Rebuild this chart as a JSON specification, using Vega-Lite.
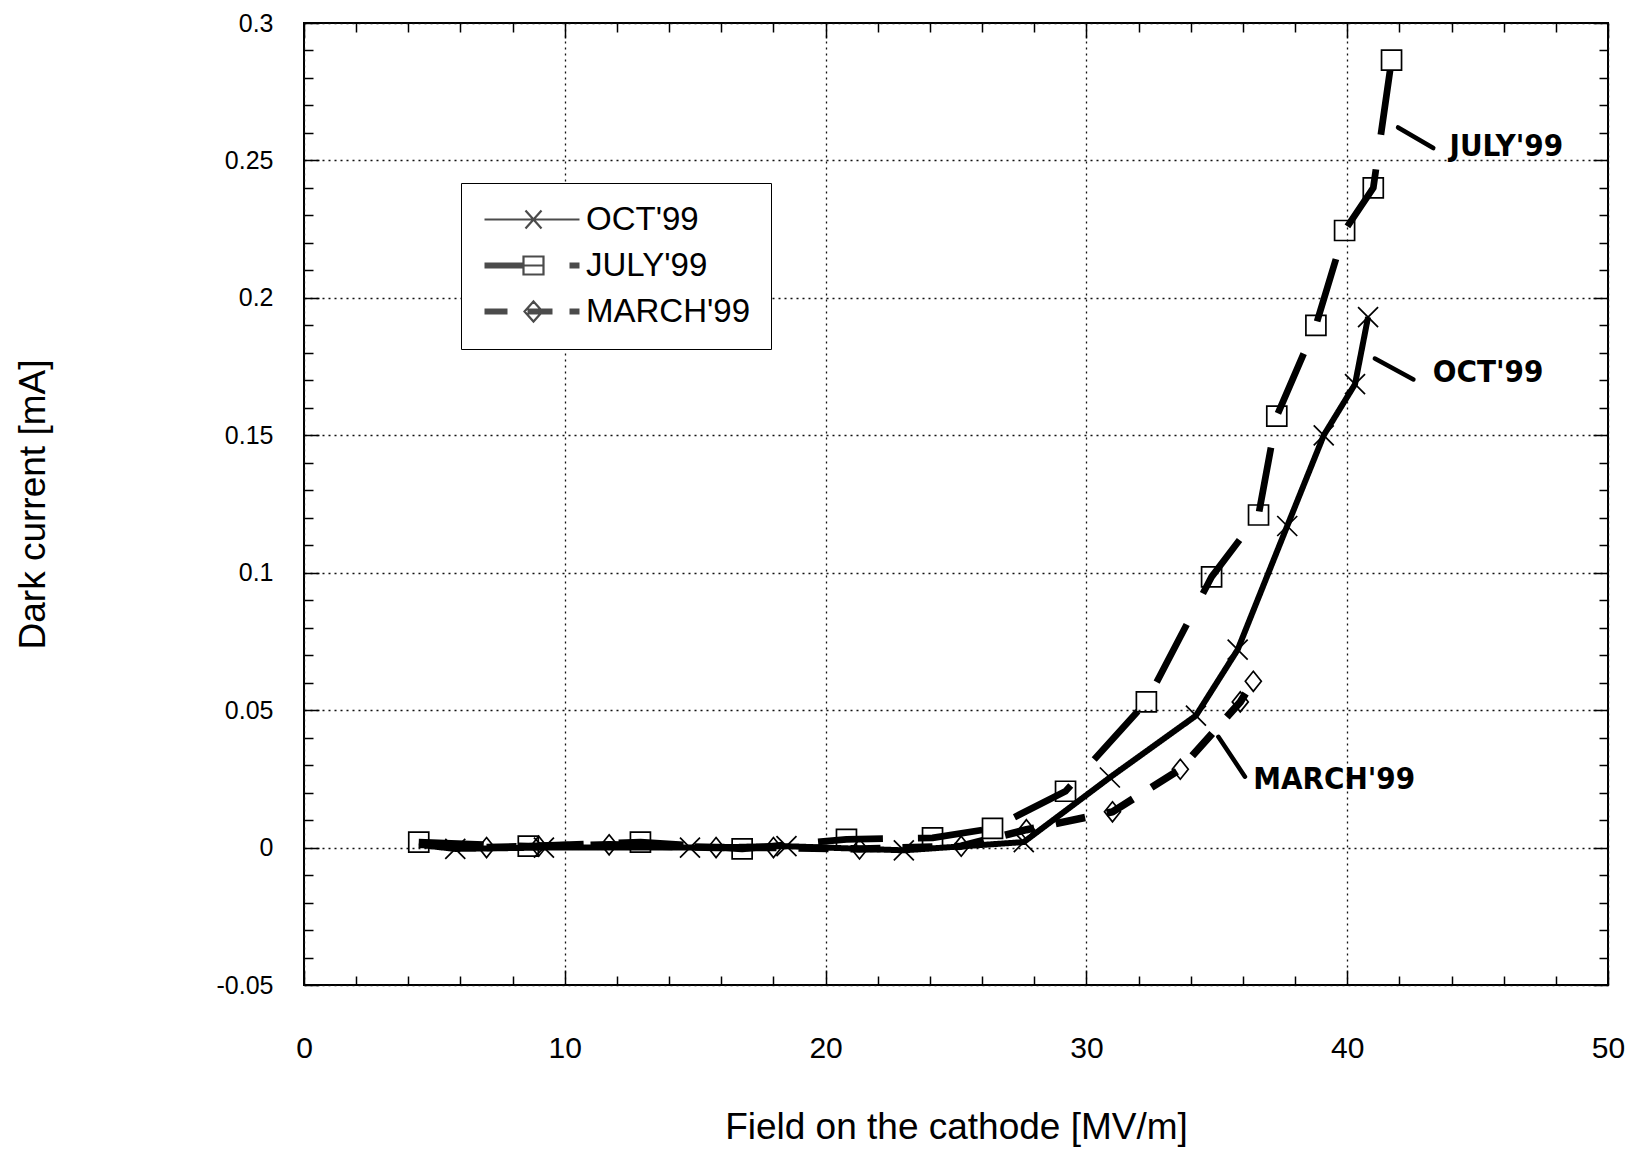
{
  "$schema": "https://vega.github.io/schema/vega-lite/v6.json",
  "width": 1304,
  "height": 962,
  "autosize": {"type": "none"},
  "padding": {"left": 304, "top": 23, "right": 31, "bottom": 164},
  "background": "white",
  "config": {
    "font": "Liberation Sans",
    "view": {"stroke": "black", "strokeWidth": 2, "fill": "white"},
    "axis": {"domain": false, "labelColor": "black", "titleColor": "black", "tickColor": "black", "labelFont": "Liberation Sans", "titleFont": "Liberation Sans", "titleFontWeight": "normal", "labelFlush": false}
  },
  "datasets": {
    "curves": [
      {"series": "JULY'99", "field": 4.4, "current": 0.002},
      {"series": "JULY'99", "field": 8.6, "current": 0.0005},
      {"series": "JULY'99", "field": 12.9, "current": 0.002},
      {"series": "JULY'99", "field": 16.8, "current": -0.0005},
      {"series": "JULY'99", "field": 20.8, "current": 0.003},
      {"series": "JULY'99", "field": 24.1, "current": 0.0035},
      {"series": "JULY'99", "field": 26.4, "current": 0.007},
      {"series": "JULY'99", "field": 29.2, "current": 0.0205},
      {"series": "JULY'99", "field": 32.3, "current": 0.053},
      {"series": "JULY'99", "field": 34.8, "current": 0.0985},
      {"series": "JULY'99", "field": 36.6, "current": 0.121},
      {"series": "JULY'99", "field": 37.3, "current": 0.157},
      {"series": "JULY'99", "field": 38.8, "current": 0.19},
      {"series": "JULY'99", "field": 39.9, "current": 0.2245},
      {"series": "JULY'99", "field": 41.0, "current": 0.24},
      {"series": "JULY'99", "field": 41.7, "current": 0.2865},
      {"series": "OCT'99", "field": 4.4, "current": 0.001},
      {"series": "OCT'99", "field": 5.8, "current": -0.0005},
      {"series": "OCT'99", "field": 9.2, "current": 0.0},
      {"series": "OCT'99", "field": 14.8, "current": 0.0},
      {"series": "OCT'99", "field": 18.5, "current": 0.0005},
      {"series": "OCT'99", "field": 23.0, "current": -0.001},
      {"series": "OCT'99", "field": 27.6, "current": 0.002},
      {"series": "OCT'99", "field": 30.9, "current": 0.0255},
      {"series": "OCT'99", "field": 34.2, "current": 0.048},
      {"series": "OCT'99", "field": 35.8, "current": 0.072},
      {"series": "OCT'99", "field": 37.7, "current": 0.117},
      {"series": "OCT'99", "field": 39.1, "current": 0.15},
      {"series": "OCT'99", "field": 40.3, "current": 0.1686},
      {"series": "OCT'99", "field": 40.8, "current": 0.193},
      {"series": "MARCH'99", "field": 7.0, "current": 0.0},
      {"series": "MARCH'99", "field": 9.0, "current": 0.0005},
      {"series": "MARCH'99", "field": 11.7, "current": 0.001},
      {"series": "MARCH'99", "field": 15.8, "current": 0.0},
      {"series": "MARCH'99", "field": 18.0, "current": 0.0},
      {"series": "MARCH'99", "field": 21.3, "current": -0.0005},
      {"series": "MARCH'99", "field": 25.2, "current": 0.0005},
      {"series": "MARCH'99", "field": 27.7, "current": 0.0065},
      {"series": "MARCH'99", "field": 31.0, "current": 0.013},
      {"series": "MARCH'99", "field": 33.6, "current": 0.0285},
      {"series": "MARCH'99", "field": 35.9, "current": 0.053},
      {"series": "MARCH'99", "field": 36.4, "current": 0.0605}
    ],
    "notes": [
      {"label": "JULY'99", "x": 46.1, "y": 0.255},
      {"label": "OCT'99", "x": 45.4, "y": 0.1728},
      {"label": "MARCH'99", "x": 39.5, "y": 0.0247}
    ],
    "arrows": [
      {"x": 41.95, "y": 0.262, "x2": 43.3, "y2": 0.2545},
      {"x": 41.06, "y": 0.1779, "x2": 42.54, "y2": 0.1703},
      {"x": 35.06, "y": 0.0403, "x2": 36.08, "y2": 0.0258}
    ]
  },
  "resolve": {"scale": {"shape": "independent"}, "axis": {"x": "independent", "y": "independent"}},
  "layer": [
    {
      "data": {"name": "curves"},
      "mark": {"type": "line", "color": "black", "strokeCap": "butt", "strokeJoin": "round"},
      "encoding": {
        "x": {"field": "field", "type": "quantitative", "scale": {"domain": [0, 50], "nice": false, "zero": false},
          "axis": {"orient": "bottom", "values": [0, 10, 20, 30, 40, 50], "ticks": false, "tickSize": 0, "grid": true, "gridColor": "#111111", "gridDash": [2, 4], "gridWidth": 1.3, "labelFontSize": 30, "labelPadding": 63, "labelBaseline": "middle", "title": "Field on the cathode [MV/m]", "titleFontSize": 37, "titleY": 142, "titleBaseline": "middle"}},
        "y": {"field": "current", "type": "quantitative", "scale": {"domain": [-0.05, 0.3], "nice": false, "zero": false},
          "axis": {"orient": "left", "values": [-0.05, 0, 0.05, 0.1, 0.15, 0.2, 0.25, 0.3], "labelExpr": "'' + datum.value", "ticks": false, "tickSize": 0, "grid": true, "gridColor": "#111111", "gridDash": [2, 4], "gridWidth": 1.3, "labelFontSize": 25, "labelPadding": 31, "title": "Dark current [mA]", "titleFontSize": 37, "titleX": -271, "titleY": 481, "titleBaseline": "middle", "titleAngle": -90}},
        "strokeDash": {"field": "series", "type": "nominal", "scale": {"domain": ["OCT'99", "JULY'99", "MARCH'99"], "range": [[1, 0], [65, 35], [30, 22]]}, "legend": null},
        "strokeWidth": {"field": "series", "type": "ordinal", "scale": {"domain": ["OCT'99", "JULY'99", "MARCH'99"], "range": [6, 7.5, 7]}, "legend": null}
      }
    },
    {
      "data": {"name": "curves"},
      "transform": [{"filter": "datum.series !== \"OCT'99\" || datum.field > 5"}],
      "mark": {"type": "point", "filled": false, "color": "black", "strokeWidth": 1.7, "size": 400, "opacity": 1},
      "encoding": {
        "x": {"field": "field", "type": "quantitative", "scale": {"domain": [0, 50], "nice": false, "zero": false},
          "axis": {"orient": "bottom", "values": [0, 10, 20, 30, 40, 50], "labels": false, "grid": false, "ticks": true, "tickSize": -15, "tickWidth": 1.5, "title": null}},
        "y": {"field": "current", "type": "quantitative", "scale": {"domain": [-0.05, 0.3], "nice": false, "zero": false},
          "axis": {"orient": "left", "values": [-0.05, 0, 0.05, 0.1, 0.15, 0.2, 0.25, 0.3], "labels": false, "grid": false, "ticks": true, "tickSize": -15, "tickWidth": 1.5, "title": null}},
        "shape": {"field": "series", "type": "nominal", "scale": {"domain": ["OCT'99", "JULY'99", "MARCH'99"], "range": ["M-1,-1L1,1M-1,1L1,-1", "square", "M0,-1L0.8,0L0,1L-0.8,0Z"]}, "legend": null}
      }
    },
    {
      "data": {"name": "notes"},
      "mark": {"type": "text", "font": "DejaVu Sans Condensed", "fontWeight": "bold", "fontSize": 31, "color": "black", "align": "center", "baseline": "middle"},
      "encoding": {
        "x": {"field": "x", "type": "quantitative", "scale": {"domain": [0, 50], "nice": false, "zero": false},
          "axis": {"orient": "bottom", "values": [2, 4, 6, 8, 12, 14, 16, 18, 22, 24, 26, 28, 32, 34, 36, 38, 42, 44, 46, 48], "labels": false, "grid": false, "ticks": true, "tickSize": -9, "tickWidth": 1.5, "title": null}},
        "y": {"field": "y", "type": "quantitative", "scale": {"domain": [-0.05, 0.3], "nice": false, "zero": false},
          "axis": {"orient": "left", "values": [-0.04, -0.03, -0.02, -0.01, 0.01, 0.02, 0.03, 0.04, 0.06, 0.07, 0.08, 0.09, 0.11, 0.12, 0.13, 0.14, 0.16, 0.17, 0.18, 0.19, 0.21, 0.22, 0.23, 0.24, 0.26, 0.27, 0.28, 0.29], "labels": false, "grid": false, "ticks": true, "tickSize": -9, "tickWidth": 1.5, "title": null}},
        "text": {"field": "label", "type": "nominal"}
      }
    },
    {
      "data": {"name": "arrows"},
      "mark": {"type": "rule", "color": "black", "strokeWidth": 4.5, "strokeCap": "round"},
      "encoding": {
        "x": {"field": "x", "type": "quantitative", "scale": {"domain": [0, 50], "nice": false, "zero": false},
          "axis": {"orient": "top", "values": [0, 10, 20, 30, 40, 50], "labels": false, "grid": false, "ticks": true, "tickSize": -15, "tickWidth": 1.5, "title": null}},
        "y": {"field": "y", "type": "quantitative", "scale": {"domain": [-0.05, 0.3], "nice": false, "zero": false},
          "axis": {"orient": "right", "values": [-0.05, 0, 0.05, 0.1, 0.15, 0.2, 0.25, 0.3], "labels": false, "grid": false, "ticks": true, "tickSize": -15, "tickWidth": 1.5, "title": null}},
        "x2": {"field": "x2"},
        "y2": {"field": "y2"}
      }
    },
    {
      "data": {"name": "curves"},
      "transform": [{"filter": "false"}],
      "mark": {"type": "point", "filled": false, "color": "black", "strokeWidth": 2.2, "size": 400},
      "encoding": {
        "x": {"field": "field", "type": "quantitative", "scale": {"domain": [0, 50], "nice": false, "zero": false},
          "axis": {"orient": "top", "values": [2, 4, 6, 8, 12, 14, 16, 18, 22, 24, 26, 28, 32, 34, 36, 38, 42, 44, 46, 48], "labels": false, "grid": false, "ticks": true, "tickSize": -9, "tickWidth": 1.5, "title": null}},
        "y": {"field": "current", "type": "quantitative", "scale": {"domain": [-0.05, 0.3], "nice": false, "zero": false},
          "axis": {"orient": "right", "values": [-0.04, -0.03, -0.02, -0.01, 0.01, 0.02, 0.03, 0.04, 0.06, 0.07, 0.08, 0.09, 0.11, 0.12, 0.13, 0.14, 0.16, 0.17, 0.18, 0.19, 0.21, 0.22, 0.23, 0.24, 0.26, 0.27, 0.28, 0.29], "labels": false, "grid": false, "ticks": true, "tickSize": -9, "tickWidth": 1.5, "title": null}},
        "shape": {"field": "series", "type": "nominal",
          "scale": {"domain": ["OCT'99", "JULY'99", "MARCH'99"],
            "range": [
              "M-4.9,0H4.6M-0.8,-0.9L0.8,0.9M-0.8,0.9L0.8,-0.9",
              "M-4.9,-0.2H-1M-4.9,0H-1M-4.9,0.2H-1M-1,-0.9H1V0.9H-1ZM-1,0H1M3.6,-0.2H4.6M3.6,0H4.6M3.6,0.2H4.6",
              "M-4.9,-0.2H-2.6M-4.9,0H-2.6M-4.9,0.2H-2.6M0,-1L0.9,0L0,1L-0.9,0ZM-0.6,-0.2H1.9M-0.6,0H1.9M-0.6,0.2H1.9M3.6,-0.2H4.6M3.6,0H4.6M3.6,0.2H4.6"
            ]},
          "legend": {"orient": "none", "legendX": 157, "legendY": 160, "title": null, "padding": 20, "strokeColor": "black", "fillColor": "white", "symbolSize": 400, "symbolStrokeWidth": 2.2, "symbolStrokeColor": "black", "symbolFillColor": "transparent", "symbolOffset": 36, "labelOffset": 36, "labelFont": "Liberation Sans", "labelFontSize": 33, "labelColor": "black", "labelLimit": 400, "rowPadding": 12,
            "encode": {"legend": {"update": {"strokeWidth": {"value": 2.5}}}, "symbols": {"update": {"stroke": {"value": "#000000"}, "opacity": {"value": 1}}}, "labels": {"update": {"fill": {"signal": "indexof(datum.label, 'OCT') >= 0 ? '#8a8a8a' : '#000000'"}}}}}
        }
      }
    }
  ]
}
